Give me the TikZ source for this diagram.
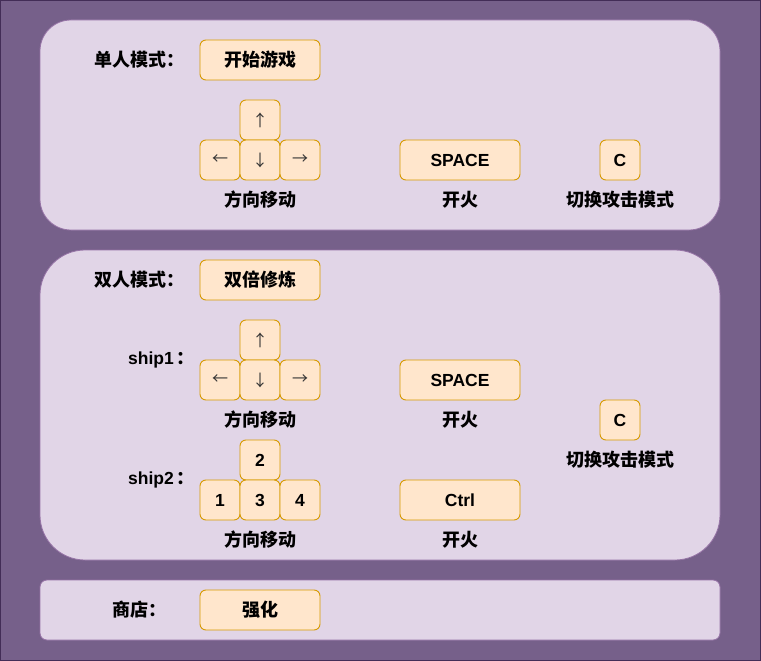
\documentclass[tikz,border=0pt]{standalone}
\usepackage{fontspec}
\setmainfont{Liberation Sans}
\newfontfamily\cjk{Noto Sans CJK SC}
\definecolor{bgfill}{HTML}{76608A}
\definecolor{bgline}{HTML}{432D57}
\definecolor{panfill}{HTML}{E1D5E7}
\definecolor{panline}{HTML}{9673A6}
\definecolor{keyfill}{HTML}{FFE6CC}
\definecolor{keyline}{HTML}{D79B00}
\tikzset{
  panel/.style={fill=panfill,draw=panline,line width=0.8pt},
  keybox/.style={fill=keyfill,draw=keyline,line width=0.9pt,rounded corners=6pt},
  keytxt/.style={font=\fontsize{17.5}{17.5}\selectfont\bfseries},
  cjktxt/.style={font=\cjk\fontsize{18}{18}\selectfont\bfseries},
  arrtxt/.style={font=\cjk\fontsize{16}{16}\selectfont,text=black!80},
}
\begin{document}
\begin{tikzpicture}[x=1pt,y=-1pt]
\useasboundingbox (0,0) rectangle (761,661);
\draw[fill=bgfill,draw=bgline,line width=1pt] (0.5,0.5) rectangle (760.5,660.5);
% panels
\draw[panel,rounded corners=31pt] (40,20) rectangle (720,230);
\draw[panel,rounded corners=45pt] (40,250) rectangle (720,560);
\draw[panel,rounded corners=7pt] (40,580) rectangle (720,640);
% ---- panel 1
\node[cjktxt,anchor=west,inner sep=0] (l1) at (94,60) {单人模式：};
\draw[keybox] (200,40) rectangle (320,80);
\node[cjktxt] (start) at (260,60) {开始游戏};
\draw[keybox] (240,100) rectangle (280,140);
\draw[keybox] (200,140) rectangle (240,180);
\draw[keybox] (240,140) rectangle (280,180);
\draw[keybox] (280,140) rectangle (320,180);
\node[arrtxt] (up1) at (260,120) {↑};
\node[arrtxt] (lf1) at (220,160) {←};
\node[arrtxt] (dn1) at (260,160) {↓};
\node[arrtxt] (rt1) at (300,160) {→};
\node[cjktxt] (mv1) at (260,200) {方向移动};
\draw[keybox] (400,140) rectangle (520,180);
\node[keytxt] (sp1) at (460,160) {SPACE};
\node[cjktxt] (f1) at (460,200) {开火};
\draw[keybox] (600,140) rectangle (640,180);
\node[keytxt] (c1) at (620,160) {C};
\node[cjktxt] (sw1) at (620,200) {切换攻击模式};
% ---- panel 2
\node[cjktxt,anchor=west,inner sep=0] (l2) at (94,280) {双人模式：};
\draw[keybox] (200,260) rectangle (320,300);
\node[cjktxt] (dbl) at (260,280) {双倍修炼};
\node[anchor=west,inner sep=0] (s1) at (128,360) {\fontsize{17.5}{17.5}\selectfont\bfseries ship1\cjk\fontsize{18}{18}\selectfont\bfseries\,：};
\draw[keybox] (240,320) rectangle (280,360);
\draw[keybox] (200,360) rectangle (240,400);
\draw[keybox] (240,360) rectangle (280,400);
\draw[keybox] (280,360) rectangle (320,400);
\node[arrtxt] (up2) at (260,340) {↑};
\node[arrtxt] (lf2) at (220,380) {←};
\node[arrtxt] (dn2) at (260,380) {↓};
\node[arrtxt] (rt2) at (300,380) {→};
\node[cjktxt] (mv2) at (260,420) {方向移动};
\draw[keybox] (400,360) rectangle (520,400);
\node[keytxt] (sp2) at (460,380) {SPACE};
\node[cjktxt] (f2) at (460,420) {开火};
\node[anchor=west,inner sep=0] (s2) at (128,480) {\fontsize{17.5}{17.5}\selectfont\bfseries ship2\cjk\fontsize{18}{18}\selectfont\bfseries\,：};
\draw[keybox] (240,440) rectangle (280,480);
\draw[keybox] (200,480) rectangle (240,520);
\draw[keybox] (240,480) rectangle (280,520);
\draw[keybox] (280,480) rectangle (320,520);
\node[keytxt] (k2) at (260,460) {2};
\node[keytxt] (k1) at (220,500) {1};
\node[keytxt] (k3) at (260,500) {3};
\node[keytxt] (k4) at (300,500) {4};
\node[cjktxt] (mv3) at (260,540) {方向移动};
\draw[keybox] (400,480) rectangle (520,520);
\node[keytxt] (ctrl) at (460,500) {Ctrl};
\node[cjktxt] (f3) at (460,540) {开火};
\draw[keybox] (600,400) rectangle (640,440);
\node[keytxt] (c2) at (620,420) {C};
\node[cjktxt] (sw2) at (620,460) {切换攻击模式};
% ---- panel 3
\node[cjktxt,anchor=west,inner sep=0] (l3) at (112,610) {商店：};
\draw[keybox] (200,590) rectangle (320,630);
\node[cjktxt] (qh) at (260,610) {强化};
\end{tikzpicture}
\end{document}
